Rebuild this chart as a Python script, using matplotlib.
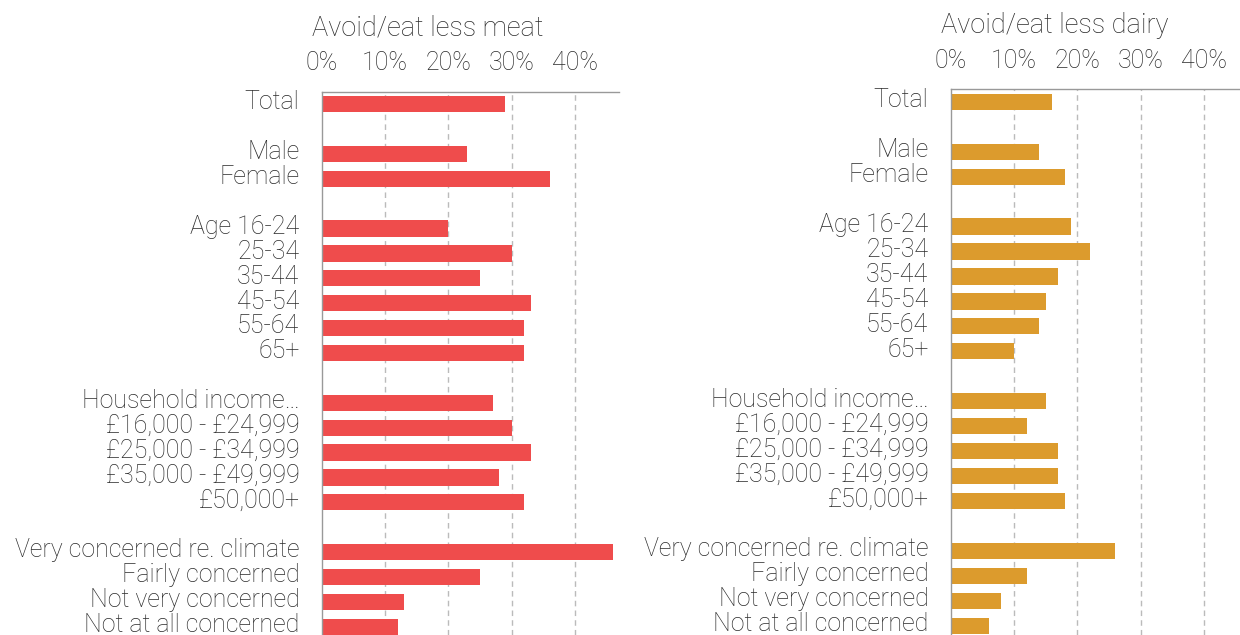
import matplotlib.pyplot as plt
import matplotlib.transforms as mtransforms

# DATA
groups = [
    ["Total"],
    ["Male", "Female"],
    ["Age 16-24", "25-34", "35-44", "45-54", "55-64", "65+"],
    ["Household income…", "£16,000 - £24,999", "£25,000 - £34,999",
     "£35,000 - £49,999", "£50,000+"],
    ["Very concerned re. climate", "Fairly concerned", "Not very concerned",
     "Not at all concerned"],
]
meat = [29, 23, 36, 20, 30, 25, 33, 32, 32, 27, 30, 33, 28, 32, 46, 25, 13, 12]
dairy = [16, 14, 18, 19, 22, 17, 15, 14, 10, 15, 12, 17, 17, 18, 26, 12, 8, 6]
ticks = [0, 10, 20, 30, 40]
tick_labels = ["0%", "10%", "20%", "30%", "40%"]

# row positions, one empty row between groups
labels = []
ypos = []
row = 0
for g in groups:
    for lab in g:
        labels.append(lab)
        ypos.append(row)
        row += 1
    row += 1

plt.rcParams['font.family'] = ['Roboto', 'DejaVu Sans']
TXT = "#2a2a2a"
FS = 18

fig = plt.figure(figsize=(12.4, 6.35), dpi=100)
shift_up = mtransforms.ScaledTranslation(0, 3 / 72, fig.dpi_scale_trans)


def panel(rect, values, color, title, xmax, ybottom):
    ax = fig.add_axes(rect)
    ax.barh(ypos, values, height=0.65, color=color, zorder=2)
    ax.set_xlim(0, xmax)
    ax.set_ylim(ybottom, -0.5)
    ax.set_xticks(ticks)
    ax.set_xticklabels(tick_labels)
    ax.set_yticks(ypos)
    ax.set_yticklabels(labels)
    ax.xaxis.tick_top()
    ax.tick_params(axis='both', length=0, labelsize=FS, colors=TXT)
    ax.tick_params(axis='y', pad=16)
    ax.tick_params(axis='x', pad=12)
    for t in ax.get_xticklabels() + ax.get_yticklabels():
        t.set_fontweight('light')
    for t in ax.get_yticklabels():
        t.set_transform(t.get_transform() + shift_up)
    for v in ticks[1:]:
        ax.axvline(v, color="#bbbbbb", linestyle=(0, (4, 3)), linewidth=1, zorder=1)
    for s in ['right', 'bottom']:
        ax.spines[s].set_visible(False)
    for s in ['left', 'top']:
        ax.spines[s].set_color("#999999")
        ax.spines[s].set_linewidth(1)
    # title left-aligned just before the axis, above the tick labels
    ax.text(-10 / (rect[2] * 1240), 1 + 64 / (rect[3] * 635), title,
            transform=ax.transAxes, ha='left', va='center',
            fontsize=19.5, color=TXT, fontweight='light')
    return ax


panel([321.7 / 1240, 0, 297.6 / 1240, 543.3 / 635], meat, "#EF4C4C",
      "Avoid/eat less meat", 47, 21.33)
panel([950.7 / 1240, 0, 289.3 / 1240, 545.7 / 635], dairy, "#DC9B2D",
      "Avoid/eat less dairy", 45.7, 21.37)

fig.savefig("out.png", dpi=100)
